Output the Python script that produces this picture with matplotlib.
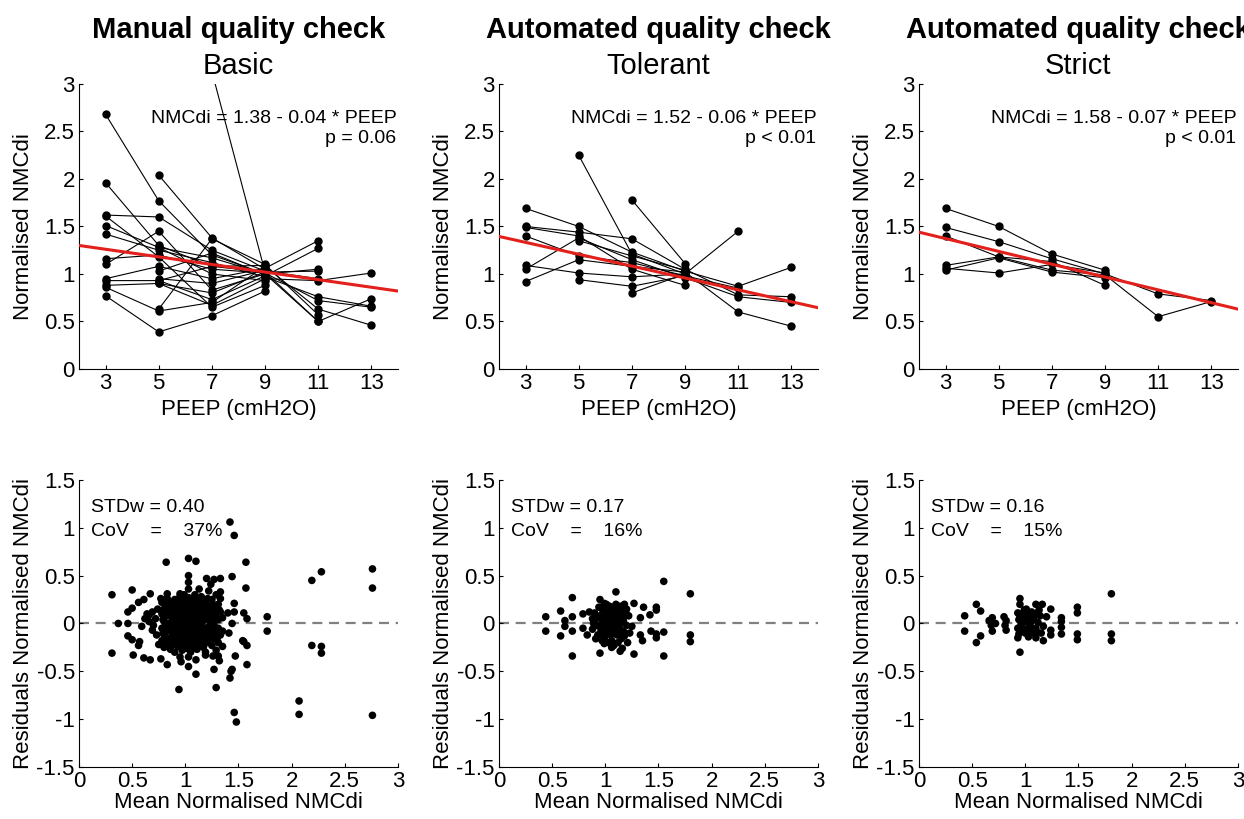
import matplotlib.pyplot as plt
import numpy as np

plt.rcParams['font.family'] = ['Liberation Sans', 'DejaVu Sans']

nan = np.nan

# PEEP levels (cmH2O)
peep = [3, 5, 7, 9, 11, 13]

titles = ['Manual quality check', 'Automated quality check', 'Automated quality check']
subtitles = ['Basic', 'Tolerant', 'Strict']

# normalised NMCdi per patient, one row per patient (nan = level not measured)
basic_patients = [
    [2.68, 1.77, 1.20, 1.00, nan, nan],
    [1.96, 1.30, 1.08, 1.02, nan, nan],
    [1.62, 1.60, 1.25, 1.03, 0.95, nan],
    [nan, 2.04, 1.38, 1.05, nan, nan],
    [1.51, 1.28, 1.17, 1.00, 1.05, nan],
    [1.42, 1.25, 1.12, 0.97, 0.76, 0.66],
    [1.16, 1.20, 1.05, 1.01, 0.72, 0.65],
    [1.10, 1.45, 0.83, 1.00, 0.50, 0.74],
    [0.95, 1.08, 0.95, 1.06, 1.35, nan],
    [0.93, 0.93, 0.73, 0.98, 1.27, nan],
    [0.88, 0.90, 0.67, 0.95, 0.93, 1.01],
    [0.86, 0.61, 0.70, 1.08, 0.63, 0.46],
    [0.77, 0.39, 0.56, 0.82, nan, nan],
    [nan, 0.63, 1.37, 1.10, 0.57, nan],
    [nan, nan, 3.13, 1.02, 1.03, nan],
    [nan, 0.95, 0.90, 1.04, nan, nan],
    [nan, 1.03, 1.22, 0.99, nan, nan],
    [nan, 1.28, 1.00, 0.93, nan, nan],
    [1.61, 1.18, 0.65, 0.88, nan, nan],
    [nan, 0.93, 1.08, 1.09, nan, nan],
    [nan, 0.90, 0.80, 1.02, 0.50, nan],
]

tolerant_patients = [
    [1.69, 1.50, 1.23, 1.03, 0.87, 1.07],
    [1.50, 1.44, 1.37, 1.05, 0.78, 0.76],
    [1.40, 1.19, 1.12, 0.98, 0.85, nan],
    [1.09, 1.01, 0.97, 1.00, 1.45, nan],
    [1.05, 1.38, 1.15, 0.96, 0.76, 0.70],
    [0.92, 1.15, 1.08, 1.02, 0.60, 0.45],
    [nan, 2.25, 1.21, 1.00, nan, nan],
    [nan, 0.94, 0.87, 0.98, nan, nan],
    [nan, 1.35, 1.19, 1.04, nan, nan],
    [nan, nan, 1.78, 1.11, nan, nan],
    [1.49, 1.40, 1.05, 0.88, nan, nan],
    [nan, nan, 0.80, 1.00, nan, nan],
]

strict_patients = [
    [1.69, 1.50, 1.21, 1.04, nan, nan],
    [1.49, 1.34, 1.16, 1.00, 0.79, 0.72],
    [1.40, 1.18, 1.13, 0.88, nan, nan],
    [1.09, 1.18, 1.04, 0.99, 0.55, 0.71],
    [1.06, 1.01, 1.10, 1.01, nan, nan],
    [1.04, 1.17, 1.02, 0.96, nan, nan],
]

# regression lines as drawn
fit_intercept = [1.38, 1.52, 1.575]
fit_slope = [-0.04, -0.0625, -0.0675]
fit_text = ['NMCdi = 1.38 - 0.04 * PEEP', 'NMCdi = 1.52 - 0.06 * PEEP', 'NMCdi = 1.58 - 0.07 * PEEP']
p_text = ['p = 0.06', 'p < 0.01', 'p < 0.01']

# residual plots: (mean normalised NMCdi, residual)
basic_resid = [
    (0.31, 0.30), (0.31, -0.31), (0.37, 0.00), (0.46, 0.12), (0.46, 0.00), (0.46, -0.13),
    (0.50, 0.35), (0.50, 0.16), (0.50, -0.17), (0.51, -0.33), (0.56, 0.22), (0.57, -0.19),
    (0.56, -0.23), (0.59, -0.03), (0.61, 0.25), (0.61, -0.36), (0.62, 0.05), (0.64, 0.10),
    (0.66, 0.02), (0.66, 0.09), (0.67, 0.31), (0.67, -0.38), (0.69, 0.12), (0.69, -0.07),
    (0.70, -0.02), (0.72, 0.05), (0.73, -0.12), (0.74, 0.15), (0.75, -0.22),
    (0.77, 0.26), (0.77, -0.37), (0.82, 0.64), (0.83, 0.31), (0.83, -0.43), (0.94, -0.69),
    (0.95, 0.31), (0.95, -0.35), (0.96, -0.40), (1.03, 0.68), (1.03, 0.50), (1.03, 0.43),
    (1.03, 0.36), (1.03, -0.35), (1.03, -0.45), (1.10, 0.65), (1.10, -0.38), (1.10, -0.53),
    (1.13, 0.36), (1.19, -0.33), (1.20, 0.47), (1.22, 0.34), (1.24, 0.41), (1.26, -0.34),
    (1.27, 0.46), (1.27, -0.48), (1.29, -0.67), (1.31, -0.34), (1.32, -0.39), (1.33, 0.47),
    (1.33, 0.33),
    (1.40, 0.11), (1.41, -0.10), (1.42, 1.06), (1.42, -0.57), (1.43, -0.50), (1.44, 0.49),
    (1.44, 0.00), (1.44, -0.48), (1.46, 0.92), (1.46, 0.21), (1.46, 0.12), (1.46, -0.93),
    (1.47, -0.34), (1.48, -1.03), (1.54, -0.18), (1.55, 0.11), (1.55, -0.19), (1.57, 0.64),
    (1.57, 0.37), (1.58, 0.05), (1.58, -0.23), (1.58, -0.43), (1.77, 0.07), (1.77, -0.08),
    (2.07, -0.81), (2.07, -0.95), (2.19, 0.45), (2.19, -0.23), (2.28, 0.54), (2.28, -0.24),
    (2.28, -0.31), (2.76, 0.57), (2.76, 0.37), (2.76, -0.96),
    (0.78, 0.22), (0.78, 0.10), (0.78, -0.05), (0.78, -0.18),
    (0.80, 0.15), (0.80, 0.02), (0.80, -0.12), (0.80, -0.25),
    (0.83, 0.26), (0.83, 0.08), (0.83, -0.08), (0.83, -0.20), (0.83, 0.18),
    (0.86, 0.12), (0.86, -0.02), (0.86, -0.15), (0.86, -0.27), (0.86, 0.22),
    (0.88, 0.05), (0.88, -0.10), (0.88, 0.17), (0.88, -0.22),
    (0.90, 0.25), (0.90, 0.08), (0.90, -0.04), (0.90, -0.17), (0.90, -0.30),
    (0.93, 0.14), (0.93, 0.01), (0.93, -0.12), (0.93, -0.24), (0.93, 0.20),
    (0.95, 0.28), (0.95, 0.06), (0.95, -0.06), (0.95, -0.19), (0.95, 0.11),
    (0.97, 0.17), (0.97, -0.01), (0.97, -0.14), (0.97, -0.28), (0.97, 0.23),
    (0.99, 0.09), (0.99, -0.08), (0.99, 0.02), (0.99, -0.21), (0.99, 0.30),
    (1.01, 0.19), (1.01, 0.04), (1.01, -0.04), (1.01, -0.16), (1.01, -0.26), (1.01, 0.12),
    (1.03, 0.27), (1.03, 0.10), (1.03, -0.01), (1.03, -0.11), (1.03, -0.23),
    (1.05, 0.15), (1.05, 0.05), (1.05, -0.07), (1.05, -0.19), (1.05, 0.22), (1.05, -0.30),
    (1.07, 0.24), (1.07, 0.08), (1.07, -0.03), (1.07, -0.14), (1.07, -0.25),
    (1.09, 0.18), (1.09, 0.01), (1.09, -0.09), (1.09, -0.20), (1.09, 0.30),
    (1.11, 0.12), (1.11, -0.05), (1.11, -0.16), (1.11, 0.25), (1.11, -0.27),
    (1.13, 0.20), (1.13, 0.06), (1.13, -0.11), (1.13, -0.22),
    (1.15, 0.28), (1.15, 0.10), (1.15, -0.02), (1.15, -0.18),
    (1.17, 0.16), (1.17, 0.03), (1.17, -0.08), (1.17, -0.25),
    (1.19, 0.22), (1.19, 0.08), (1.19, -0.14), (1.19, -0.30),
    (1.21, 0.12), (1.21, -0.04), (1.21, -0.20), (1.21, 0.26),
    (1.23, 0.18), (1.23, 0.02), (1.23, -0.12),
    (1.25, 0.25), (1.25, 0.07), (1.25, -0.08), (1.25, -0.23),
    (1.27, 0.14), (1.27, -0.02), (1.27, -0.16),
    (1.29, 0.30), (1.29, 0.10), (1.29, -0.10), (1.29, -0.28),
    (1.31, 0.20), (1.31, 0.04), (1.31, -0.05), (1.31, -0.20),
    (1.33, 0.12), (1.33, -0.12), (1.33, 0.26),
    (1.35, 0.06), (1.35, -0.08), (1.35, -0.24),
    (0.79, 0.04), (0.79, -0.10), (0.81, 0.20), (0.81, -0.03), (0.82, -0.16), (0.84, 0.13),
    (0.84, 0.00), (0.85, -0.23), (0.87, 0.07), (0.87, -0.06), (0.89, 0.22), (0.89, -0.14),
    (0.91, 0.15), (0.91, 0.02), (0.92, -0.08), (0.92, -0.20), (0.94, 0.25), (0.94, 0.09),
    (0.94, -0.03), (0.96, 0.02), (0.96, -0.11), (0.96, -0.24), (0.98, 0.13), (0.98, -0.04),
    (0.98, -0.17), (1.00, 0.25), (1.00, 0.07), (1.00, -0.12), (1.02, 0.15), (1.02, -0.07),
    (1.02, -0.20), (1.04, 0.03), (1.04, 0.19), (1.04, -0.15), (1.06, 0.11), (1.06, -0.10),
    (1.06, -0.22), (1.08, 0.05), (1.08, 0.27), (1.08, -0.17), (1.10, 0.08), (1.10, -0.02),
    (1.10, -0.23), (1.12, 0.16), (1.12, -0.08), (1.14, 0.02), (1.14, 0.24), (1.14, -0.15),
    (1.16, 0.13), (1.16, -0.05), (1.18, 0.05), (1.18, -0.20), (1.20, 0.18), (1.20, -0.09),
    (1.22, 0.07), (1.22, -0.16), (1.24, 0.12), (1.24, -0.03), (1.26, 0.20), (1.26, -0.12),
    (1.28, 0.04), (1.30, -0.15), (1.32, 0.14),
]

tolerant_resid = [
    (0.44, 0.07), (0.44, -0.08), (0.58, 0.13), (0.58, -0.13), (0.62, 0.03), (0.62, -0.03),
    (0.69, 0.27), (0.69, 0.07), (0.69, -0.08), (0.69, -0.34), (0.79, 0.10), (0.79, -0.05),
    (0.83, -0.12), (0.85, 0.12), (0.95, 0.25), (0.95, -0.31), (0.99, 0.21), (1.10, 0.33),
    (1.10, 0.20), (0.99, -0.21), (1.08, -0.23), (1.14, -0.29), (1.27, 0.21), (1.36, 0.17),
    (1.27, -0.32), (1.25, -0.03), (1.33, 0.06), (1.33, -0.12), (1.35, -0.18), (1.42, 0.09),
    (1.43, -0.08), (1.48, 0.17), (1.48, 0.14), (1.48, -0.11), (1.48, -0.15), (1.55, 0.44),
    (1.55, -0.09), (1.55, -0.34), (1.80, 0.31), (1.80, -0.12), (1.80, -0.19),
    (0.88, 0.05), (0.88, -0.06), (0.90, 0.11), (0.92, -0.02), (0.93, -0.12), (0.95, 0.08),
    (0.96, -0.07), (0.97, 0.15), (0.98, 0.02), (0.99, -0.15), (1.00, 0.06), (1.01, -0.04),
    (1.02, 0.12), (1.03, -0.10), (1.04, 0.18), (1.05, 0.00), (1.06, -0.18), (1.07, 0.09),
    (1.08, -0.06), (1.09, 0.15), (1.10, 0.03), (1.11, -0.12), (1.12, 0.10), (1.13, -0.03),
    (1.14, 0.18), (1.15, -0.16), (1.16, 0.06), (1.17, -0.08), (1.19, 0.12), (1.20, -0.02),
    (1.22, 0.08), (1.21, -0.20), (1.01, 0.20), (0.94, 0.17), (1.06, -0.25), (0.91, -0.16),
    (1.18, 0.20), (1.03, -0.20), (1.16, -0.26),
    (0.89, 0.00), (0.91, 0.05), (0.93, 0.06), (0.95, -0.02), (0.97, 0.04), (0.98, -0.10),
    (1.00, 0.12), (1.01, 0.00), (1.02, -0.06), (1.03, 0.05), (1.04, 0.10), (1.05, -0.12),
    (1.06, 0.04), (1.07, -0.02), (1.08, 0.12), (1.09, -0.10), (1.10, 0.09), (1.11, 0.01),
    (1.12, -0.05), (1.13, 0.14), (1.14, 0.01), (1.15, 0.10), (1.17, 0.03), (1.18, -0.13),
    (1.05, 0.15), (0.97, -0.18), (1.12, -0.20), (1.00, -0.05), (1.08, 0.00), (1.15, -0.08),
    (1.20, 0.15), (1.23, -0.10),
]

strict_resid = [
    (0.43, 0.08), (0.43, -0.08), (0.54, 0.20), (0.58, 0.13), (0.58, -0.13), (0.54, -0.20),
    (0.66, 0.03), (0.68, -0.02), (0.69, 0.06), (0.72, 0.00), (0.69, -0.08), (0.80, 0.07),
    (0.82, 0.03), (0.81, -0.02), (0.82, -0.07), (0.95, 0.26), (0.95, 0.20), (0.95, -0.30),
    (0.93, 0.11), (0.94, 0.04), (0.93, -0.05), (0.94, -0.11), (1.01, 0.15), (1.03, 0.07),
    (1.05, 0.01), (1.02, -0.07), (1.03, -0.14), (1.10, 0.20), (1.16, 0.20), (1.11, 0.11),
    (1.12, 0.01), (1.17, -0.03), (1.10, -0.15), (1.17, -0.18), (1.24, 0.15), (1.20, 0.07),
    (1.24, -0.07), (1.24, -0.12), (0.99, 0.02), (0.98, -0.05), (1.07, -0.05), (1.34, 0.06),
    (1.34, 0.02), (1.34, -0.04), (1.34, -0.11), (1.49, 0.17), (1.49, 0.11), (1.49, -0.11),
    (1.49, -0.17), (1.81, 0.31), (1.81, -0.11), (1.81, -0.18),
    (0.97, 0.09), (1.00, -0.10), (1.06, 0.12), (1.08, -0.09), (1.14, 0.08), (0.99, 0.14),
    (1.04, -0.02), (0.96, -0.01), (1.08, 0.04),
    (0.95, 0.08), (0.97, -0.08), (1.00, 0.06), (1.02, 0.11), (1.04, 0.05), (1.06, -0.10),
    (1.09, 0.09), (1.10, -0.05), (1.13, 0.14), (1.15, -0.10), (0.93, -0.15), (1.11, -0.09),
]

std_text = ['STDw = 0.40', 'STDw = 0.17', 'STDw = 0.16']
cov_text = ['CoV    =    37%', 'CoV    =    16%', 'CoV    =    15%']

patients_all = [basic_patients, tolerant_patients, strict_patients]
resid_all = [basic_resid, tolerant_resid, strict_resid]

fig = plt.figure(figsize=(12.44, 8.19), dpi=100)
lefts = [0.0635, 0.4011, 0.7387]
w = 0.2564


def style_axes(ax):
    for s in ['top', 'right']:
        ax.spines[s].set_visible(False)
    for s in ['left', 'bottom']:
        ax.spines[s].set_linewidth(0.8)
    ax.tick_params(direction='in', length=3, width=0.8, pad=3, labelsize=16)


for i in range(3):
    # top: NMCdi vs PEEP
    ax = fig.add_axes([lefts[i], 0.5495, w, 0.348])
    for row in patients_all[i]:
        row = np.array(row)
        ok = ~np.isnan(row)
        ax.plot(np.array(peep)[ok], row[ok], color='black', lw=0.8,
                marker='o', ms=5, mfc='black', mec='black', zorder=2)
    xx = np.array([2, 14])
    ax.plot(xx, fit_intercept[i] + fit_slope[i] * xx, color='#e3201b', lw=2.2, zorder=3)
    ax.set_xlim(2, 14)
    ax.set_ylim(0, 3)
    ax.set_xticks(peep)
    ax.set_yticks([0, 0.5, 1, 1.5, 2, 2.5, 3])
    ax.set_yticklabels(['0', '0.5', '1', '1.5', '2', '2.5', '3'])
    style_axes(ax)
    ax.set_xlabel('PEEP (cmH2O)', fontsize=16)
    ax.set_ylabel('Normalised NMCdi', fontsize=16)
    ax.xaxis.set_label_coords(0.5, -0.105)
    ax.yaxis.set_label_coords(-0.141, 0.5)
    ax.text(0.995, 0.88, fit_text[i], transform=ax.transAxes, ha='right', va='center', fontsize=14)
    ax.text(0.995, 0.807, p_text[i], transform=ax.transAxes, ha='right', va='center', fontsize=14)
    ax.text(0.5, 1.161, titles[i], transform=ax.transAxes, ha='center', va='baseline',
            fontsize=21, fontweight='bold')
    ax.text(0.5, 1.035, subtitles[i], transform=ax.transAxes, ha='center', va='baseline',
            fontsize=21)

    # bottom: residuals
    bx = fig.add_axes([lefts[i], 0.0635, w, 0.3505])
    rx, ry = np.array(resid_all[i]).T
    bx.plot([0, 3], [0, 0], color='#808080', lw=1.6, dashes=(4.5, 3), zorder=1)
    bx.scatter(rx, ry, s=30, color='black', edgecolors='none', zorder=2)
    bx.set_xlim(0, 3)
    bx.set_ylim(-1.5, 1.5)
    bx.set_xticks([0, 0.5, 1, 1.5, 2, 2.5, 3])
    bx.set_xticklabels(['0', '0.5', '1', '1.5', '2', '2.5', '3'])
    bx.set_yticks([-1.5, -1, -0.5, 0, 0.5, 1, 1.5])
    bx.set_yticklabels(['-1.5', '-1', '-0.5', '0', '0.5', '1', '1.5'])
    style_axes(bx)
    bx.set_xlabel('Mean Normalised NMCdi', fontsize=16)
    bx.set_ylabel('Residuals Normalised NMCdi', fontsize=16)
    bx.xaxis.set_label_coords(0.5, -0.088)
    bx.yaxis.set_label_coords(-0.141, 0.5)
    bx.text(0.037, 0.903, std_text[i], transform=bx.transAxes, ha='left', va='center', fontsize=14)
    bx.text(0.037, 0.82, cov_text[i], transform=bx.transAxes, ha='left', va='center', fontsize=14)

fig.savefig('out.png', dpi=100)
